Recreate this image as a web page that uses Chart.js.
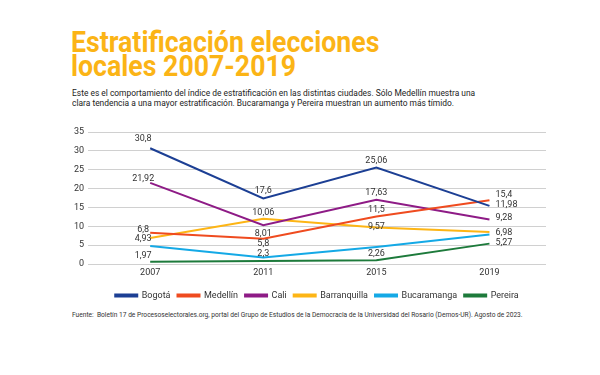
<!DOCTYPE html>
<html>
<head>
<meta charset="utf-8">
<script src="https://cdn.jsdelivr.net/npm/chart.js@4.4.1/dist/chart.umd.min.js"></script>
<style>
  body { margin: 0; background: #fff; width: 600px; height: 375px; overflow: hidden; position: relative; font-family: Roboto, sans-serif; }
  #title { position: absolute; left: 71px; top: 31px; color: #fbb416; font-weight: 700; font-size: 29px; line-height: 23.5px; transform-origin: 0 0; transform: scaleX(0.92); white-space: nowrap; }
  #sub { position: absolute; left: 72px; top: 89px; color: #222; font-size: 9px; line-height: 9.5px; transform-origin: 0 0; transform: scaleX(0.935); white-space: nowrap; }
  #src { position: absolute; left: 72px; top: 311px; color: #333; font-size: 7px; transform-origin: 0 0; transform: scaleX(0.945); white-space: nowrap; }
  #wrap { position: absolute; left: 0; top: 120px; width: 600px; height: 190px; }
</style>
</head>
<body>
<div id="title">Estratificación elecciones<br>locales 2007-2019</div>
<div id="sub">Este es el comportamiento del índice de estratificación en las distintas ciudades. Sólo Medellín muestra una<br>clara tendencia a una mayor estratificación. Bucaramanga y Pereira muestran un aumento más tímido.</div>
<div id="wrap"><canvas id="chart"></canvas></div>
<div id="src">Fuente:&nbsp; Boletín 17 de Procesoselectorales.org, portal del Grupo de Estudios de la Democracia de la Universidad del Rosario (Demos-UR). Agosto de 2023.</div>
<script>
const years = [2007, 2011, 2015, 2019];

// valores
const bogota = [30.7, 17.4, 25.6, 15.4];
const medellin = [8.3, 6.7, 12.6, 16.9];
const cali = [21.5, 10.3, 17.0, 11.8];
const barranquilla = [6.9, 12.0, 9.7, 8.5];
const bucaramanga = [4.8, 1.7, 4.5, 7.8];
const pereira = [0.6, 0.8, 1.0, 5.4];

// etiquetas tal como aparecen en la imagen
const bogotaLabels = ['30,8', '17,6', '25,06', '11,98'];
const medellinLabels = ['6,8', '5,8', '11,5', '15,4'];
const caliLabels = ['21,92', '8,01', '17,63', '9,28'];
const barranquillaLabels = [null, '10,06', '9,57', '6,98'];
const bucaramangaLabels = ['4,93', '2,3', null, null];
const pereiraLabels = ['1,97', null, '2,26', '5,27'];

const yTicks = [0, 5, 10, 15, 20, 25, 30, 35];

const series = [
    { label: 'Bogotá', values: bogota, labels: bogotaLabels, dy: [-9, -8, -7, -1], color: '#1c3f94' },
    { label: 'Medellín', values: medellin, labels: medellinLabels, dy: [-3, 5, -7, -6], color: '#ef4b1f' },
    { label: 'Cali', values: cali, labels: caliLabels, dy: [-4, 9, -7, -2], color: '#8e1b86' },
    { label: 'Barranquilla', values: barranquilla, labels: barranquillaLabels, dy: [0, -6, -1, 1], color: '#fdb515' },
    { label: 'Bucaramanga', values: bucaramanga, labels: bucaramangaLabels, dy: [-7, -4, 0, 0], color: '#14a9e6' },
    { label: 'Pereira', values: pereira, labels: pereiraLabels, dy: [-6, 0, -6, -1], color: '#1d7a3b' }
];
const labelDx = [-7, 0, 0, 6];
const labelAlign = ['center', 'center', 'center', 'left'];

const valueLabels = {
    id: 'valueLabels',
    afterDatasetsDraw(chart) {
        const ctx = chart.ctx;
        ctx.save();
        ctx.font = '9px Roboto';
        ctx.fillStyle = '#333';
        ctx.textBaseline = 'middle';
        chart.data.datasets.forEach((ds, i) => {
            const meta = chart.getDatasetMeta(i);
            meta.data.forEach((pt, j) => {
                const txt = ds.valueLabels[j];
                if (!txt) return;
                ctx.textAlign = labelAlign[j];
                ctx.fillText(txt, pt.x + labelDx[j], pt.y + ds.labelDy[j]);
            });
        });
        ctx.restore();
    }
};

new Chart(document.getElementById('chart'), {
    type: 'line',
    data: {
        datasets: series.map(s => ({
            label: s.label,
            data: years.map((yr, i) => ({ x: yr, y: s.values[i] })),
            borderColor: s.color,
            backgroundColor: s.color,
            borderWidth: 2,
            pointRadius: 0,
            tension: 0,
            valueLabels: s.labels,
            labelDy: s.dy
        }))
    },
    options: {
        responsive: true,
        maintainAspectRatio: false,
        animation: false,
        layout: { padding: { left: 0, right: 54, top: 12, bottom: 0 } },
        plugins: {
            legend: {
                position: 'bottom',
                fullSize: false,
                title: { display: true, text: '', padding: { top: 2, bottom: 0 }, font: { size: 1 } },
                labels: {
                    boxWidth: 22,
                    boxHeight: 2,
                    padding: 7,
                    color: '#333',
                    font: { family: 'Roboto', size: 9 }
                }
            },
            tooltip: { enabled: false }
        },
        scales: {
            x: {
                type: 'linear',
                min: 2004.8,
                max: 2021.0,
                afterBuildTicks: scale => { scale.ticks = years.map(v => ({ value: v })); },
                grid: { display: false, drawTicks: false },
                border: { display: false },
                ticks: { color: '#333', font: { family: 'Roboto', size: 9 }, padding: 3, callback: v => String(v) }
            },
            y: {
                min: 0,
                max: 35,
                afterBuildTicks: scale => { scale.ticks = yTicks.map(v => ({ value: v })); },
                afterFit: scale => { scale.width = 88; },
                grid: { color: '#d0d0d0', lineWidth: 1, drawTicks: false },
                border: { display: false },
                ticks: { color: '#333', font: { family: 'Roboto', size: 9 }, padding: 4 }
            }
        }
    },
    plugins: [valueLabels]
});
</script>
</body>
</html>
